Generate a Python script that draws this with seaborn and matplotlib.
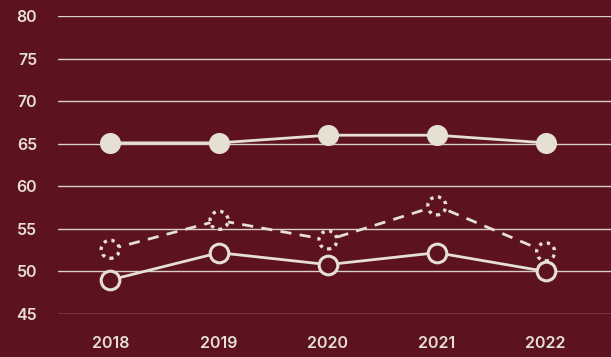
import numpy as np
import pandas as pd
import seaborn as sns
import matplotlib.pyplot as plt

# data
years = ["2018", "2019", "2020", "2021", "2022"]
filled = [65.1, 65.1, 66.0, 66.0, 65.1]
dashed = [52.6, 56.0, 53.7, 57.7, 52.3]
hollow = [49.0, 52.2, 50.8, 52.2, 50.0]

bg = "#5c131f"
cream = "#e6e0d2"

sns.set_theme(style="white")
plt.rcParams['font.family'] = ['Inter', 'DejaVu Sans']

fig = plt.figure(figsize=(6.11, 3.57), dpi=100, facecolor=bg)
ax = fig.add_axes([58 / 611, 1 - 314 / 357, 553 / 611, (314 - 16) / 357])
ax.set_facecolor(bg)

x = np.arange(len(years))
df = pd.DataFrame({"x": x, "filled": filled, "dashed": dashed, "hollow": hollow})

# lines
sns.lineplot(data=df, x="x", y="filled", color=cream, lw=2.0, ax=ax, zorder=3)
sns.lineplot(data=df, x="x", y="dashed", color=cream, lw=2.0, ax=ax, zorder=3,
             linestyle=(0, (4, 3)))
sns.lineplot(data=df, x="x", y="hollow", color=cream, lw=2.0, ax=ax, zorder=3)

# markers
sns.scatterplot(data=df, x="x", y="filled", color=cream, s=230, edgecolor=cream,
                linewidth=0, ax=ax, zorder=4)
sns.scatterplot(data=df, x="x", y="dashed", color=bg, s=170, edgecolor=cream,
                linewidth=2.4, linestyle=(0, (1, 1.4)), ax=ax, zorder=4)
sns.scatterplot(data=df, x="x", y="hollow", color=bg, s=180, edgecolor=cream,
                linewidth=2.2, ax=ax, zorder=4)

ax.set_xlim(-0.48, 4.6)
ax.set_ylim(45, 80)
ax.set_yticks(range(45, 81, 5))
ax.set_xticks(x)
ax.set_xticklabels(years)
ax.set_xlabel("")
ax.set_ylabel("")

for gy in range(45, 81, 5):
    ax.axhline(gy, color="#d9cfc4", lw=1.0, zorder=1)

for s in ax.spines.values():
    s.set_visible(False)
ax.tick_params(axis="both", length=0, colors=cream, labelsize=11.5)
ax.tick_params(axis="y", pad=15)
ax.tick_params(axis="x", pad=16)
for lab in ax.get_xticklabels() + ax.get_yticklabels():
    lab.set_fontweight("semibold")

fig.savefig("out.png", dpi=100, facecolor=bg)
